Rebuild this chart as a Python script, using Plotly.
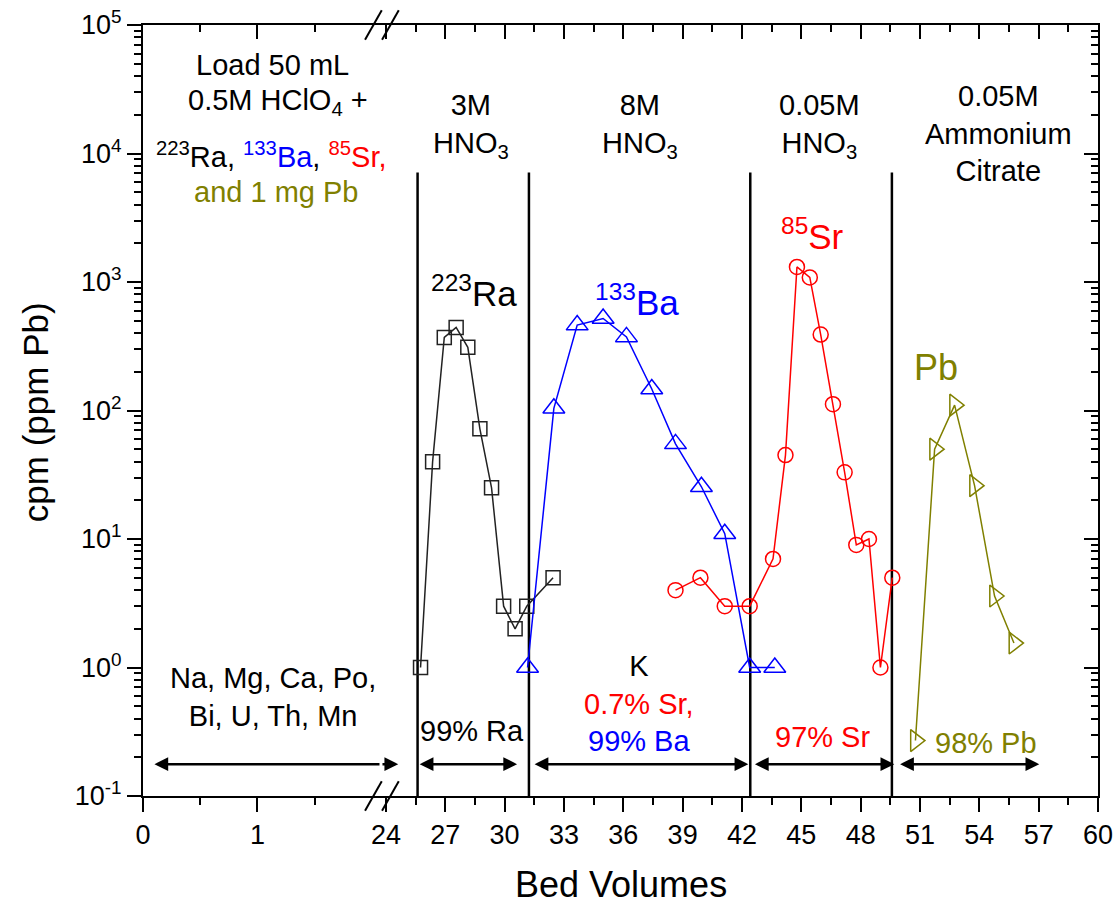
import numpy as np
import plotly.graph_objects as go

# ---- elution data (bed volumes vs cpm / ppm Pb) ----
ra_bv = [25.75, 26.36, 26.95, 27.55, 28.14, 28.75, 29.34, 29.95, 30.53, 31.12, 32.45]
ra_cpm = [1.0, 40, 370, 443, 310, 72, 25, 3.0, 2.0, 3.0, 5.0]

ba_bv = [31.16, 32.49, 33.67, 34.98, 36.16, 37.44, 38.64, 39.95, 41.13, 42.39, 43.66]
ba_cpm = [1.0, 104, 462, 520, 374, 147, 55, 25.5, 11, 1.0, 1.0]

sr_bv = [38.64, 39.90, 41.13, 42.39, 43.57, 44.20, 44.78, 45.43, 45.98, 46.60,
         47.19, 47.78, 48.42, 49.00, 49.60]
sr_cpm = [4.0, 5.0, 3.0, 3.0, 7.0, 45, 1310, 1085, 390, 112, 33, 9.0, 10, 1.0, 5.0]

pb_bv = [50.77, 51.74, 52.75, 53.76, 54.77, 55.75]
pb_ppm = [0.27, 50, 110, 26, 3.6, 1.55]

# eluent change positions (bed volumes) and the height the separators reach
eluent_changes = [25.60, 31.23, 42.42, 49.58]
separator_top = 7100

# fraction ranges shown by the double arrows (bed volumes)
arrow_level = 0.177
fraction_ranges = [(25.63, 30.63), (31.44, 42.32), (42.58, 49.70), (49.92, 57.03)]
load_range = (0.10, 24.62)

# axis set-up
left_range = [0, 2.079]
right_range = [23.75, 60]
split = 0.2492
left_ticks = [0, 1]
right_ticks = list(range(24, 61, 3))
y_exponents = list(range(-1, 6))
y_ticks = [10.0 ** e for e in y_exponents]
y_ticktext = ["10<sup>%d</sup>" % e for e in y_exponents]
y_minor = [k * 10.0 ** e for e in range(-1, 5) for k in range(2, 10)]

BLACK = "#000000"
BLUE = "#0000FF"
RED = "#FF0000"
OLIVE = "#808000"
FONT = "Liberation Sans, Arial, sans-serif"

fig = go.Figure()

# separators between eluents
for xv in eluent_changes:
    fig.add_trace(go.Scatter(x=[xv, xv], y=[0.1, separator_top], mode="lines",
                             line=dict(color=BLACK, width=2.5), xaxis="x2", yaxis="y",
                             showlegend=False, hoverinfo="skip"))

fig.add_trace(go.Scatter(x=ra_bv, y=ra_cpm, mode="lines+markers", xaxis="x2", yaxis="y",
                         line=dict(color="#222222", width=1.5),
                         marker=dict(symbol="square-open", size=14, color="#222222",
                                     line=dict(width=1.5)),
                         showlegend=False, cliponaxis=False))
fig.add_trace(go.Scatter(x=ba_bv, y=ba_cpm, mode="lines+markers", xaxis="x2", yaxis="y",
                         line=dict(color=BLUE, width=1.5),
                         marker=dict(symbol="triangle-up-open", size=19, color=BLUE,
                                     line=dict(width=1.5)),
                         showlegend=False, cliponaxis=False))
fig.add_trace(go.Scatter(x=sr_bv, y=sr_cpm, mode="lines+markers", xaxis="x2", yaxis="y",
                         line=dict(color=RED, width=1.5),
                         marker=dict(symbol="circle-open", size=15, color=RED,
                                     line=dict(width=1.5)),
                         showlegend=False, cliponaxis=False))
fig.add_trace(go.Scatter(x=pb_bv, y=pb_ppm, mode="lines+markers", xaxis="x2", yaxis="y",
                         line=dict(color=OLIVE, width=1.5),
                         marker=dict(symbol="triangle-right-open", size=19, color=OLIVE,
                                     line=dict(width=1.5)),
                         showlegend=False, cliponaxis=False))

# placeholders so the mirrored (inside-tick) axes are drawn
for xa, ya in [("x", "y"), ("x3", "y"), ("x4", "y"), ("x2", "y3")]:
    fig.add_trace(go.Scatter(x=[None], y=[None], xaxis=xa, yaxis=ya, showlegend=False,
                             hoverinfo="skip"))

tickfont = dict(family=FONT, size=27, color=BLACK)
line_style = dict(showline=True, linecolor=BLACK, linewidth=2, showgrid=False,
                  zeroline=False, ticklen=14, tickwidth=2, tickcolor=BLACK,
                  automargin=False)


def x_minor(vals, side):
    return dict(tickmode="array", tickvals=vals, ticks=side, ticklen=7, tickwidth=2,
                tickcolor=BLACK)


left_minor = [0.5, 1.5]
right_minor = [t + 1.5 for t in right_ticks[:-1]]

fig.update_layout(
    template="none",
    width=1119, height=907,
    margin=dict(l=143, r=21, t=25, b=111),
    plot_bgcolor="white", paper_bgcolor="white",
    font=dict(family=FONT, color=BLACK),
    xaxis=dict(domain=[0, split], range=left_range, anchor="y", ticks="outside",
               tickmode="array", tickvals=left_ticks, tickfont=tickfont,
               minor=x_minor(left_minor, "outside"), **line_style),
    xaxis2=dict(domain=[split, 1], range=right_range, anchor="y", ticks="outside",
                tickmode="array", tickvals=right_ticks, tickfont=tickfont,
                minor=x_minor(right_minor, "outside"), **line_style),
    xaxis3=dict(overlaying="x", side="top", anchor="y", range=left_range, ticks="inside",
                showticklabels=False, tickmode="array", tickvals=left_ticks,
                minor=x_minor(left_minor, "inside"), **line_style),
    xaxis4=dict(overlaying="x2", side="top", anchor="y", range=right_range,
                ticks="inside", showticklabels=False, tickmode="array",
                tickvals=right_ticks, minor=x_minor(right_minor, "inside"), **line_style),
    yaxis=dict(type="log", range=[-1, 5], anchor="x", side="left", ticks="outside",
               tickmode="array", tickvals=y_ticks, ticktext=y_ticktext,
               tickfont=tickfont,
               minor=dict(tickmode="array", tickvals=y_minor, ticks="outside",
                          ticklen=7, tickwidth=1.5, tickcolor=BLACK),
               **line_style),
    yaxis3=dict(type="log", range=[-1, 5], overlaying="y", anchor="x2", side="right",
                ticks="inside", tickmode="array", tickvals=y_ticks,
                showticklabels=False,
                minor=dict(tickmode="array", tickvals=y_minor, ticks="inside",
                           ticklen=7, tickwidth=1.5, tickcolor=BLACK),
                **line_style),
)

annotations = []


def label(text, x, y, xref="x2", size=29, color=BLACK):
    annotations.append(dict(text=text, x=x, y=np.log10(y), xref=xref, yref="y",
                            showarrow=False, xanchor="center", yanchor="middle",
                            font=dict(family=FONT, size=size, color=color)))


# loading block
label("Load 50 mL", 1.13, 10 ** 4.689, xref="x")
label("0.5M HClO<sub>4</sub> +", 1.175, 10 ** 4.40, xref="x")
label("<sup>223</sup>Ra, <span style='color:#0000FF'><sup>133</sup>Ba</span>, "
      "<span style='color:#FF0000'><sup>85</sup>Sr,</span>", 1.126, 10 ** 3.99, xref="x")
label("and 1 mg Pb", 1.161, 10 ** 3.702, xref="x", color=OLIVE)
label("Na, Mg, Ca, Po,<br>Bi, U, Th, Mn", 1.136, 10 ** -0.232, xref="x")

# eluent headers
label("3M<br>HNO<sub>3</sub>", 28.3, 10 ** 4.214)
label("8M<br>HNO<sub>3</sub>", 36.83, 10 ** 4.214)
label("0.05M<br>HNO<sub>3</sub>", 45.93, 10 ** 4.214)
label("0.05M<br>Ammonium<br>Citrate", 54.95, 10 ** 4.159)

# peak labels
label("<sup>223</sup>Ra", 28.45, 10 ** 2.93, size=35)
label("<sup>133</sup>Ba", 36.70, 10 ** 2.86, size=35, color=BLUE)
label("<sup>85</sup>Sr", 45.55, 10 ** 3.37, size=35, color=RED)
label("Pb", 51.79, 10 ** 2.337, size=36, color=OLIVE)

# recovery labels
label("99% Ra", 28.37, 10 ** -0.496)
label("K<br><span style='color:#FF0000'>0.7% Sr,</span><br>"
      "<span style='color:#0000FF'>99% Ba</span>", 36.78, 10 ** -0.278)
label("97% Sr", 46.08, 10 ** -0.543, color=RED)
label("98% Pb", 54.32, 10 ** -0.59, color=OLIVE)

ly = np.log10(arrow_level)
arrow_style = dict(showarrow=True, text="", arrowhead=2, arrowsize=1.1, arrowwidth=2.5,
                   arrowcolor=BLACK, standoff=0, startstandoff=0)
for x0, x1 in fraction_ranges:
    annotations.append(dict(x=x1, y=ly, ax=x0, ay=ly, xref="x2", yref="y", axref="x2",
                            ayref="y", arrowside="end+start", **arrow_style))
# loading range arrow runs across the axis break
annotations.append(dict(x=load_range[0], y=ly, ax=left_range[1], ay=ly, xref="x",
                        yref="y", axref="x", ayref="y", arrowside="end", **arrow_style))
annotations.append(dict(x=load_range[1], y=ly, ax=right_range[0], ay=ly, xref="x2",
                        yref="y", axref="x2", ayref="y", arrowside="end", **arrow_style))

# axis titles
annotations.append(dict(text="Bed Volumes", x=0.5, y=-0.115, xref="paper", yref="paper",
                        showarrow=False, xanchor="center", yanchor="middle",
                        font=dict(family=FONT, size=36, color=BLACK)))
annotations.append(dict(text="cpm (ppm Pb)", x=-0.113, y=0.498, xref="paper",
                        yref="paper", showarrow=False, textangle=-90, xanchor="center",
                        yanchor="middle", font=dict(family=FONT, size=35, color=BLACK)))

fig.update_layout(annotations=annotations)

# axis-break marks on the top and bottom axes
shapes = []
for xs in (0.2325, 0.2503):
    for yc in (0.0, 1.0):
        shapes.append(dict(type="line", xref="paper", yref="paper",
                           x0=xs, y0=yc - 0.019, x1=xs + 0.0175, y1=yc + 0.019,
                           line=dict(color=BLACK, width=2)))
fig.update_layout(shapes=shapes)

fig.write_html("out.html")
